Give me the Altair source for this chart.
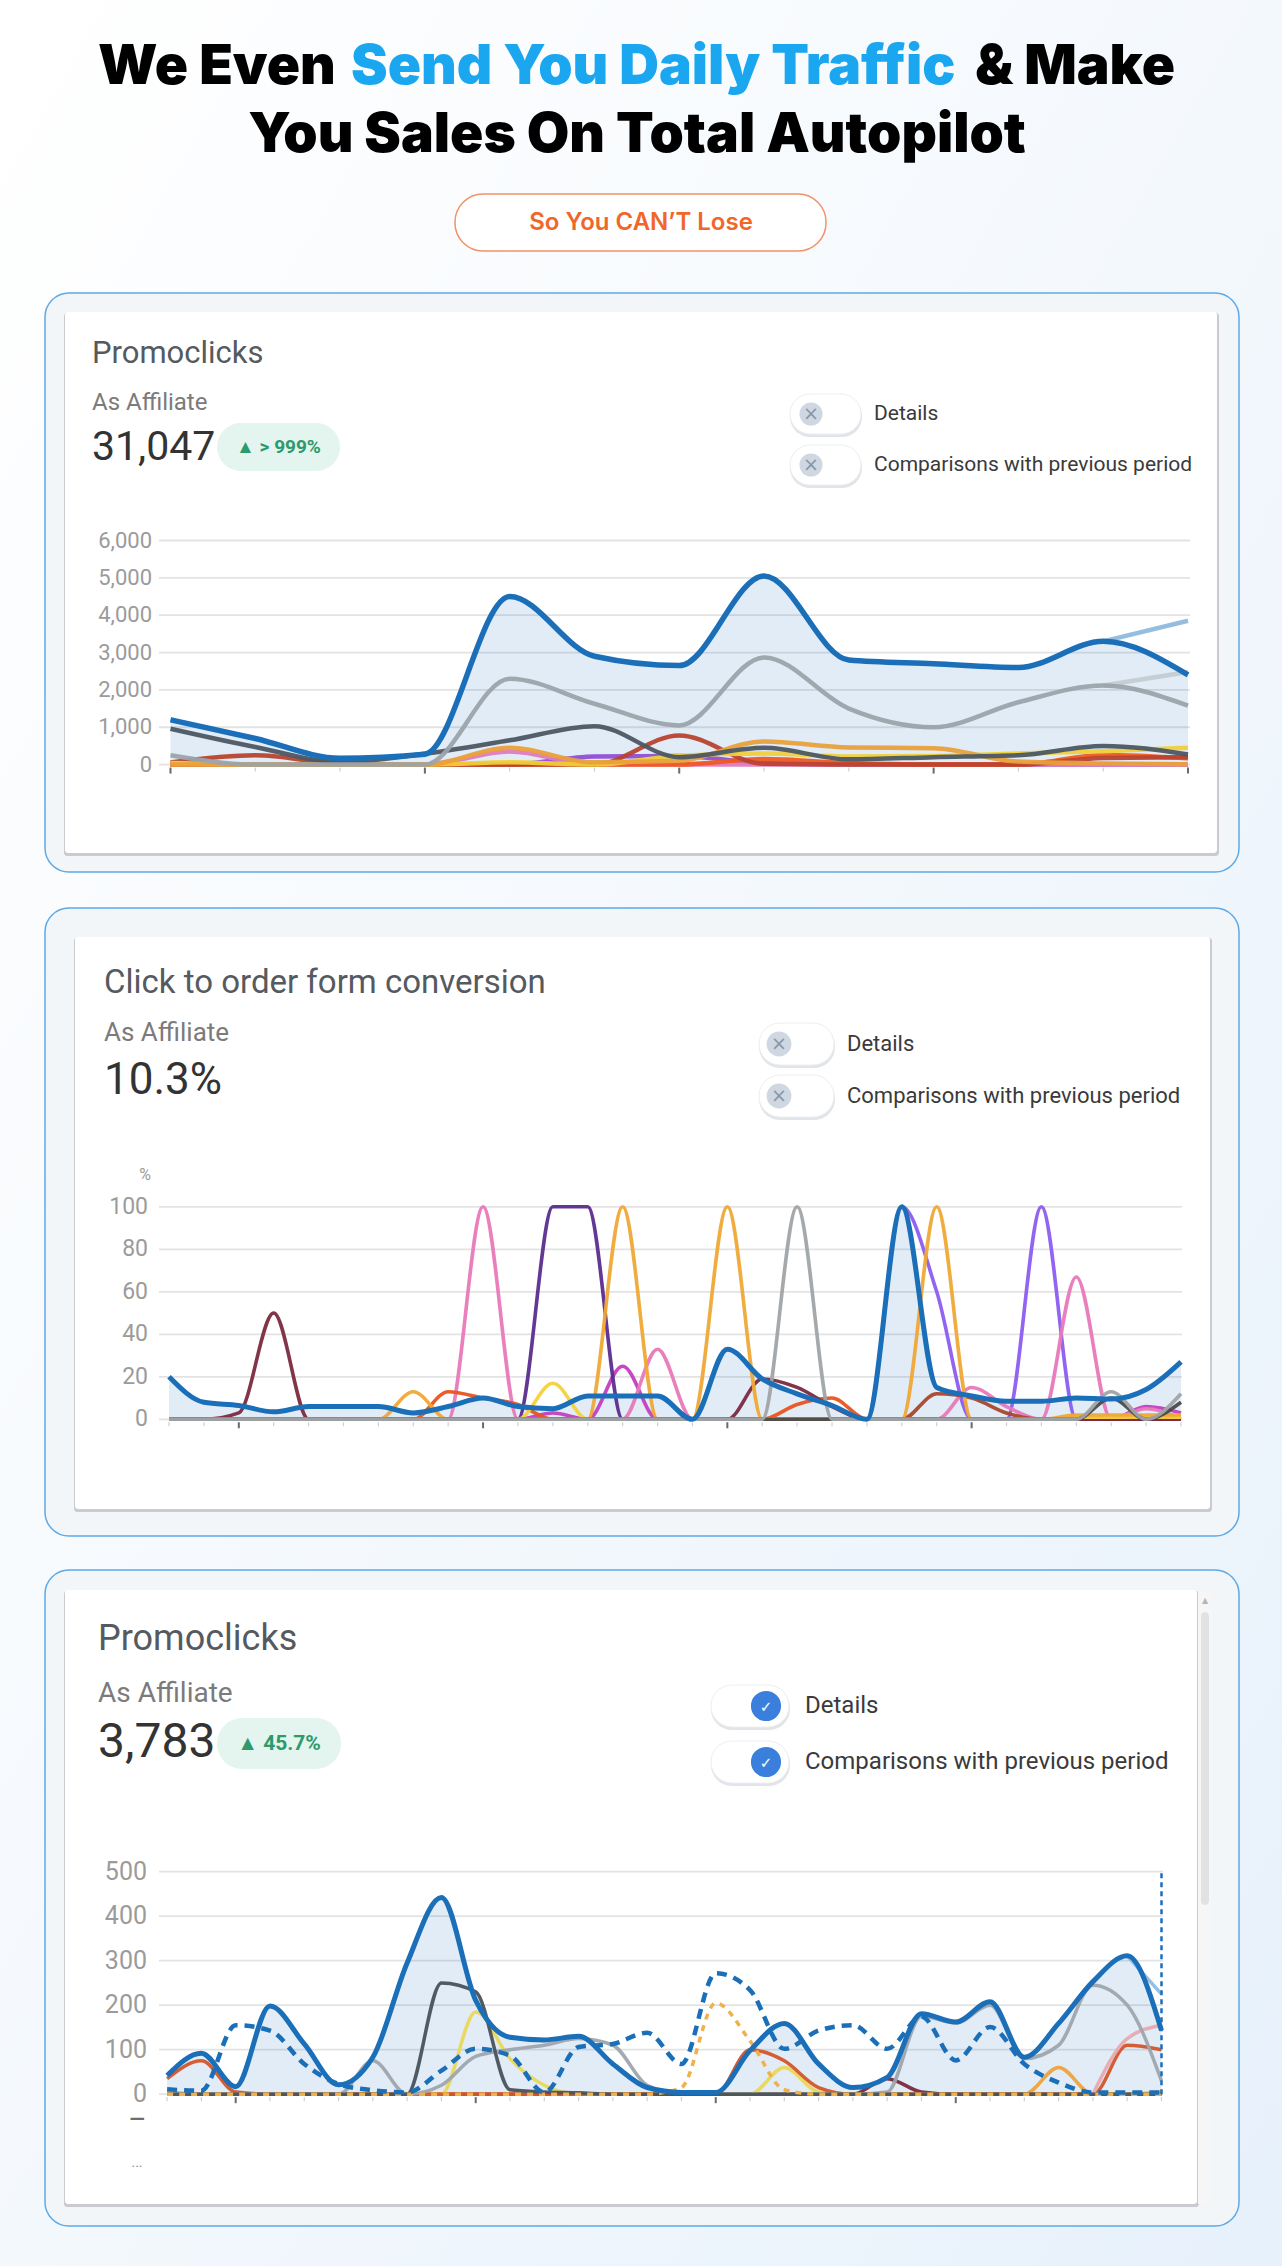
import math
import altair as alt
import pandas as pd

W, H = 1282, 2266

# ---------------------------------------------------------------- data ----
# Chart 1 : Promoclicks (13 points)
C1_X = list(range(13))
C1_YTICKS = [0, 1000, 2000, 3000, 4000, 5000, 6000]
C1_MAIN = [1200, 700, 170, 280, 4500, 2900, 2650, 5050, 2800, 2700, 2600, 3300, 2400]
C1_SERIES = {
    "Purple":     [0, 0, 0, 0, 0, 220, 230, 40, 0, 0, 0, 0, 0],
    "Pink":       [0, 0, 0, 0, 350, 0, 0, 0, 0, 0, 0, 0, 0],
    "Bright red": [0, 0, 0, 0, 0, 0, 0, 150, 40, 0, 0, 260, 170],
    "Red":        [60, 250, 30, 0, 0, 0, 780, 20, 0, 0, 0, 180, 200],
    "Yellow":     [40, 0, 0, 0, 60, 0, 240, 300, 220, 230, 300, 360, 450],
    "Orange":     [0, 0, 0, 0, 450, 60, 100, 620, 460, 440, 80, 30, 10],
    "Light gray": [None, None, None, None, None, None, None, None, None, None, None, 2120, 2480],
    "Light blue": [None, None, None, None, None, None, None, None, None, None, None, 3300, 3850],
    "Dark slate": [960, 470, 70, 290, 650, 1030, 200, 450, 140, 200, 250, 500, 270],
    "Gray":       [250, 0, 0, 0, 2300, 1630, 1050, 2870, 1500, 1000, 1670, 2120, 1580],
}
C1_COLORS = ["#8e4fd6", "#e07bc0", "#ee5a24", "#b9432f", "#f0cf3a", "#e9a03b",
             "#c4ccd3", "#8fb9dd", "#4b5864", "#9ba3ab"]

# Chart 2 : Click to order form conversion (30 points, %)
C2_X = list(range(30))
C2_YTICKS = [0, 20, 40, 60, 80, 100]
C2_MAIN = [20, 8, 6.5, 3.5, 6, 6, 6, 3, 6, 10, 6, 5, 11, 11, 11, 0, 33, 19, 12, 6.5,
           0, 100, 15, 11, 8.5, 8.5, 10, 9.5, 14, 27]
C2_SERIES = {
    "Violet":      [0, 0, 0, 0, 0, 0, 0, 0, 0, 0, 0, 0, 0, 0, 0, 0, 0, 0, 0, 0, 0, 100, 60, 0, 0, 100, 0, 0, 0, 0],
    "Magenta":     [0, 0, 0, 0, 0, 0, 0, 0, 0, 0, 0, 3, 0, 25, 0, 0, 0, 0, 0, 0, 0, 0, 0, 0, 0, 0, 0, 0, 6, 3],
    "Dark purple": [0, 0, 0, 0, 0, 0, 0, 0, 0, 0, 0, 100, 100, 0, 0, 0, 0, 0, 0, 0, 0, 0, 0, 0, 0, 0, 0, 0, 0, 0],
    "Pink":        [0, 0, 0, 0, 0, 0, 0, 0, 0, 100, 0, 0, 0, 0, 33, 0, 0, 0, 0, 0, 0, 0, 0, 15, 6, 0, 67, 0, 5, 0],
    "Red orange":  [0, 0, 0, 0, 0, 0, 0, 0, 13, 10, 7, 0, 0, 0, 0, 0, 0, 0, 7, 10, 0, 0, 0, 0, 0, 0, 0, 0, 0, 0],
    "Brown":       [0, 0, 0, 0, 0, 0, 0, 0, 0, 0, 0, 0, 0, 0, 0, 0, 0, 0, 0, 0, 0, 0, 12, 10, 3, 0, 0, 0, 0, 0],
    "Maroon":      [0, 0, 3, 50, 0, 0, 0, 0, 0, 0, 0, 0, 0, 0, 0, 0, 0, 19, 15, 6, 0, 0, 0, 0, 0, 0, 0, 0, 0, 0],
    "Yellow":      [0, 0, 0, 0, 0, 0, 0, 0, 0, 0, 0, 17, 0, 0, 0, 0, 0, 0, 0, 0, 0, 0, 0, 0, 0, 0, 1, 1, 1, 1],
    "Gold":        [0, 0, 0, 0, 0, 0, 0, 13, 0, 0, 0, 0, 0, 100, 0, 0, 100, 0, 0, 0, 0, 0, 100, 0, 0, 0, 2, 2, 2, 2],
    "Dark":        [0, 0, 0, 0, 0, 0, 0, 0, 0, 0, 0, 0, 0, 0, 0, 0, 0, 0, 0, 0, 0, 0, 0, 0, 0, 0, 0, 10, 0, 8],
    "Gray":        [0, 0, 0, 0, 0, 0, 0, 0, 0, 0, 0, 0, 0, 0, 0, 0, 0, 0, 100, 0, 0, 0, 0, 0, 0, 0, 0, 13, 0, 12],
}
C2_COLORS = ["#8b5cf0", "#c33fc0", "#5b2d8e", "#e879b9", "#e9531d", "#a9472c",
             "#7b2a3f", "#f3d23c", "#f0a836", "#4a4a4a", "#a0a4a8"]

# Chart 3 : Promoclicks with comparisons (30 points)
C3_X = list(range(30))
C3_YTICKS = [0, 100, 200, 300, 400, 500]
C3_MAIN = [42, 92, 17, 198, 113, 21, 83, 295, 442, 211, 128, 122, 130, 68, 15, 4, 4, 98,
           159, 68, 15, 38, 181, 162, 208, 83, 159, 253, 311, 143]
C3_PREV = [11, 8, 155, 143, 68, 23, 9, 4, 53, 102, 87, 4, 106, 113, 138, 68, 272, 234,
           102, 143, 155, 102, 174, 76, 151, 68, 26, 4, 4, 4]
C3_PREV_ORANGE = [0, 0, 0, 0, 0, 0, 0, 0, 0, 0, 0, 0, 0, 0, 0, 15, 205, 120, 10, 0,
                  0, 0, 0, 0, 0, 0, 0, 0, 0, 0]
C3_SERIES = {
    "Orange":     [0, 0, 0, 0, 0, 0, 0, 0, 0, 0, 0, 0, 0, 0, 0, 0, 0, 0, 0, 0, 0, 0, 0, 0, 0, 0, 60, 0, 0, 5],
    "Maroon":     [0, 0, 0, 0, 0, 0, 0, 0, 0, 0, 0, 0, 0, 0, 0, 0, 0, 0, 0, 0, 0, 35, 5, 0, 0, 0, 0, 0, 0, 0],
    "Yellow":     [0, 0, 0, 0, 0, 0, 0, 0, 0, 185, 80, 20, 0, 0, 0, 0, 0, 0, 60, 5, 0, 0, 0, 0, 0, 0, 0, 0, 0, 0],
    "Orange red": [35, 75, 5, 0, 0, 0, 0, 0, 0, 0, 0, 0, 0, 0, 0, 0, 0, 100, 75, 15, 0, 0, 0, 0, 0, 0, 0, 0, 110, 100],
    "Light pink": [None] * 27 + [0, 125, 155],
    "Light blue": [None] * 28 + [311, 225],
    "Gray":       [5, 0, 0, 0, 0, 0, 75, 0, 20, 85, 100, 110, 125, 110, 20, 0, 0, 0, 0, 0, 0, 5, 175, 160, 200, 80, 110, 245, 200, 30],
    "Dark slate": [0, 0, 0, 0, 0, 0, 0, 0, 250, 230, 10, 5, 3, 0, 0, 0, 0, 0, 0, 0, 0, 0, 0, 0, 0, 0, 0, 0, 0, 0],
}
C3_COLORS = ["#eda33a", "#7b2a3f", "#e9d85a", "#d4552b", "#e8aab0", "#8dbde6",
             "#9ea5ad", "#48525c"]
C3_MARKER = [29]

BLUE = "#1b6fb9"
FONT = "Roboto"

# ------------------------------------------------------------ helpers ----
ONE = pd.DataFrame({"k": [0]})


def rect(x, x2, y, y2, **kw):
    return alt.Chart(ONE).mark_rect(**kw).encode(
        x=alt.value(x), x2=alt.value(x2), y=alt.value(y), y2=alt.value(y2))


def text(t, x, y, **kw):
    kw.setdefault("font", FONT)
    kw.setdefault("baseline", "middle")
    kw.setdefault("align", "left")
    return alt.Chart(ONE).mark_text(text=t, **kw).encode(x=alt.value(x), y=alt.value(y))


def circle(x, y, r, color):
    return alt.Chart(ONE).mark_circle(size=math.pi * r * r, color=color, opacity=1).encode(
        x=alt.value(x), y=alt.value(y))


def long_df(xs, series):
    rows = []
    for name, vals in series.items():
        for xv, v in zip(xs, vals):
            if v is not None:
                rows.append({"i": xv, "v": v, "s": name})
    return pd.DataFrame(rows)


def card(outer, inner):
    ox, ox2, oy, oy2 = outer
    ix, ix2, iy, iy2 = inner
    return [
        rect(ox, ox2, oy, oy2, cornerRadius=24, fill="#f3f6f9", stroke="#5ea9e6", strokeWidth=1.5),
        rect(ix - 1, ix2 + 2, iy + 1, iy2 + 3, cornerRadius=3, fill="#c4c7cb", opacity=0.9),
        rect(ix, ix2, iy, iy2, cornerRadius=3, fill="#ffffff"),
    ]


def toggle(px, px2, py, py2, cx, r, checked, label, lx, fs):
    cy = (py + py2) / 2
    layers = [
        rect(px, px2 + 1, py + 2, py2 + 3, cornerRadius=(py2 - py) / 2, fill="#d9dde2", opacity=0.8),
        rect(px, px2, py, py2, cornerRadius=(py2 - py) / 2, fill="#ffffff", stroke="#eceef1", strokeWidth=1),
    ]
    if checked:
        layers.append(circle(cx, cy, r, "#3a7fdb"))
        layers.append(text("✓", cx, cy + 1, align="center", fontSize=15, color="#ffffff", font="DejaVu Sans"))
    else:
        layers.append(circle(cx, cy, r, "#cfd8e2"))
        layers.append(text("×", cx, cy, align="center", fontSize=19, color="#8796a6", font="DejaVu Sans"))
    layers.append(text(label, lx, cy, fontSize=fs, color="#3a3a3a"))
    return layers


def badge(x, x2, y, y2, label, fs):
    return [
        rect(x, x2, y, y2, cornerRadius=(y2 - y) / 2, fill="#e4f4ee"),
        text(label, (x + x2) / 2, (y + y2) / 2, align="center", fontSize=fs, color="#2b9a6c",
             fontWeight=700),
    ]


def panel(xs, main, series, colors, xr, ydom, yr, yticks, grid_x, label_x, label_fs,
          major, line_w, main_w, extra=None):
    xsc = alt.Scale(domain=[xs[0], xs[-1]], range=list(xr), nice=False, zero=False)
    ysc = alt.Scale(domain=list(ydom), range=list(yr), nice=False)
    y0 = yr[0]
    tdf = pd.DataFrame({"v": yticks})
    grid = alt.Chart(tdf).mark_rule(color="#e3e3e3", strokeWidth=1.8).encode(
        y=alt.Y("v:Q", scale=ysc, axis=None),
        x=alt.value(grid_x[0]), x2=alt.value(grid_x[1]))
    labels = alt.Chart(tdf).mark_text(align="right", baseline="middle", font=FONT,
                                      fontSize=label_fs, color="#9b9b9b").encode(
        y=alt.Y("v:Q", scale=ysc, axis=None), x=alt.value(label_x),
        text=alt.Text("v:Q", format=","))
    xdf = pd.DataFrame({"i": xs})
    ticks = alt.Chart(xdf).mark_rule(color="#cfcfcf", strokeWidth=1.2).encode(
        x=alt.X("i:Q", scale=xsc, axis=None), y=alt.value(y0 + 3), y2=alt.value(y0 + 7))
    mdf = pd.DataFrame({"i": major})
    mticks = alt.Chart(mdf).mark_rule(color="#6b6b6b", strokeWidth=2).encode(
        x=alt.X("i:Q", scale=xsc, axis=None), y=alt.value(y0 + 3), y2=alt.value(y0 + 9))
    maindf = pd.DataFrame({"i": xs, "v": main})
    area = alt.Chart(maindf).mark_area(color=BLUE, opacity=0.13, interpolate="monotone").encode(
        x=alt.X("i:Q", scale=xsc, axis=None), y=alt.Y("v:Q", scale=ysc, axis=None))
    ldf = long_df(xs, series)
    names = list(series.keys())
    others = alt.Chart(ldf).mark_line(strokeWidth=line_w, interpolate="monotone", opacity=0.95).encode(
        x=alt.X("i:Q", scale=xsc, axis=None), y=alt.Y("v:Q", scale=ysc, axis=None),
        color=alt.Color("s:N", scale=alt.Scale(domain=names, range=colors), legend=None))
    mainline = alt.Chart(maindf).mark_line(color=BLUE, strokeWidth=main_w, interpolate="monotone").encode(
        x=alt.X("i:Q", scale=xsc, axis=None), y=alt.Y("v:Q", scale=ysc, axis=None))
    layers = [grid, labels, ticks, mticks, area, others]
    if extra:
        layers += extra(xsc, ysc)
    layers.append(mainline)
    return alt.layer(*layers)


# ---------------------------------------------------------- decoration ----
deco = []
deco.append(alt.Chart(ONE).mark_rect(
    fill=alt.Gradient(gradient="linear", x1=0, y1=0, x2=1, y2=1,
                      stops=[alt.GradientStop(color="#ffffff", offset=0),
                             alt.GradientStop(color="#f5f9fd", offset=0.45),
                             alt.GradientStop(color="#e7f1fb", offset=1)])).encode(
    x=alt.value(0), x2=alt.value(W), y=alt.value(0), y2=alt.value(H)))

TITLE_FONT = "Inter"
TS = 55
deco += [
    text("We Even", 98, 84, baseline="alphabetic", font=TITLE_FONT, fontSize=TS, fontWeight=900, color="#000000"),
    text("Send You Daily Traffic", 351, 84, baseline="alphabetic", font=TITLE_FONT, fontSize=TS, fontWeight=900, color="#1ba6f0"),
    text("& Make", 975, 84, baseline="alphabetic", font=TITLE_FONT, fontSize=TS, fontWeight=900, color="#000000"),
    text("You Sales On Total Autopilot", 637, 152, align="center", baseline="alphabetic", font=TITLE_FONT, fontSize=TS, fontWeight=900, color="#000000"),
    rect(455, 826, 194, 251, cornerRadius=28, fill="#ffffff", stroke="#f0936a", strokeWidth=1.5),
    text("So You CAN’T Lose", 641, 223, align="center", font=TITLE_FONT, fontSize=24, fontWeight=600, color="#f0672a"),
]

# Card 1
deco += card((45, 1239, 293, 872), (65, 1217, 312, 853))
deco += [
    text("Promoclicks", 92, 354, fontSize=31, color="#555a60"),
    text("As Affiliate", 92, 403, fontSize=24, color="#7b7b7b"),
    text("31,047", 92, 448, fontSize=41, color="#333333"),
]
deco += badge(217, 340, 423, 471, "▲ > 999%", 19)
deco += toggle(790, 861, 394, 434, 811, 13, False, "Details", 874, 21)
deco += toggle(790, 861, 445, 485, 811, 13, False, "Comparisons with previous period", 874, 21)

# Card 2
deco += card((45, 1239, 908, 1536), (75, 1210, 937, 1509))
deco += [
    text("Click to order form conversion", 104, 983, fontSize=33, color="#555a60"),
    text("As Affiliate", 104, 1033, fontSize=26, color="#7b7b7b"),
    text("10.3%", 104, 1081, fontSize=44, color="#333333"),
    text("%", 145, 1175, align="center", fontSize=16, color="#9b9b9b"),
]
deco += toggle(759, 834, 1023, 1065, 779, 14, False, "Details", 847, 22)
deco += toggle(759, 834, 1075, 1117, 779, 14, False, "Comparisons with previous period", 847, 22)

# Card 3
deco += card((45, 1239, 1570, 2226), (65, 1197, 1590, 2204))
deco += [
    rect(1198, 1212, 1592, 2204, fill="#f6f6f6"),
    rect(1201, 1209, 1612, 1905, cornerRadius=4, fill="#e2e2e2"),
    text("▲", 1205, 1601, align="center", fontSize=8, color="#b5b5b5", font="DejaVu Sans"),
    text("Promoclicks", 98, 1639, fontSize=36, color="#555a60"),
    text("As Affiliate", 98, 1694, fontSize=28, color="#7b7b7b"),
    text("3,783", 98, 1743, fontSize=48, color="#333333"),
    text("—", 137, 2120, align="center", fontSize=20, color="#6f6f6f", fontWeight=700),
    text("...", 137, 2163, align="center", fontSize=14, color="#8a8a8a"),
]
deco += badge(217, 341, 1718, 1769, "▲ 45.7%", 21)
deco += toggle(711, 789, 1685, 1727, 766, 17, True, "Details", 805, 24)
deco += toggle(711, 789, 1741, 1783, 766, 17, True, "Comparisons with previous period", 805, 24)

# -------------------------------------------------------------- panels ----
p1 = panel(C1_X, C1_MAIN, C1_SERIES, C1_COLORS, (170.5, 1188), (0, 6000), (764.6, 540.5),
           C1_YTICKS, (159, 1190), 152, 22, [0, 3, 6, 9, 12], 4.5, 5.5)

p2 = panel(C2_X, C2_MAIN, C2_SERIES, C2_COLORS, (169, 1181), (0, 100), (1419.3, 1206.8),
           C2_YTICKS, (159, 1182), 148, 23, [2, 9, 16, 23], 3.6, 5)


def c3_extra(xsc, ysc):
    prev = alt.Chart(pd.DataFrame({"i": C3_X, "v": C3_PREV})).mark_line(
        color=BLUE, strokeWidth=4.5, strokeDash=[10, 7], interpolate="monotone").encode(
        x=alt.X("i:Q", scale=xsc, axis=None), y=alt.Y("v:Q", scale=ysc, axis=None))
    prev_o = alt.Chart(pd.DataFrame({"i": C3_X, "v": C3_PREV_ORANGE})).mark_line(
        color="#f0b04a", strokeWidth=3.5, strokeDash=[6, 6], interpolate="monotone").encode(
        x=alt.X("i:Q", scale=xsc, axis=None), y=alt.Y("v:Q", scale=ysc, axis=None))
    marker = alt.Chart(pd.DataFrame({"i": C3_MARKER, "lo": [C3_YTICKS[0]], "hi": [C3_YTICKS[-1]]})).mark_rule(
        color=BLUE, strokeWidth=2.5, strokeDash=[5, 4]).encode(
        x=alt.X("i:Q", scale=xsc, axis=None), y=alt.Y("lo:Q", scale=ysc, axis=None), y2="hi:Q")
    return [prev_o, prev, marker]


p3 = panel(C3_X, C3_MAIN, C3_SERIES, C3_COLORS, (167.1, 1161.5), (0, 500), (2094.2, 1871.7),
           C3_YTICKS, (159, 1163), 147, 25, [2, 9, 16, 23], 3.5, 5, extra=c3_extra)

chart = alt.layer(*deco, p1, p2, p3).resolve_scale(
    x="independent", y="independent", color="independent"
).properties(
    width=W, height=H, autosize=alt.AutoSizeParams(type="none"), padding=0,
    background="#ffffff"
).configure_view(stroke=None)

chart.save("out.html", embed_options={"renderer": "svg", "actions": False})
